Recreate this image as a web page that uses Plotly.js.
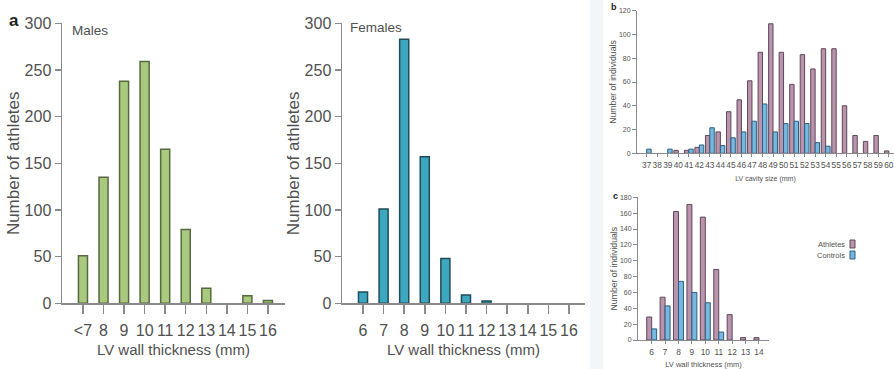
<!DOCTYPE html>
<html>
<head>
<meta charset="utf-8">
<script src="https://cdn.plot.ly/plotly-3.0.1.min.js"></script>
<style>html,body{margin:0;padding:0;background:#fff;}#chart{width:894px;height:369px;}</style>
</head>
<body>
<div id="chart"></div>
<script>
// ---- data ----
const maleCats = ['<7','8','9','10','11','12','13','14','15','16'];
const maleVals = [51,135,238,259,165,79,16,0,8,3];

const femaleCats = ['6','7','8','9','10','11','12','13','14','15','16'];
const femaleVals = [12,101,283,157,48,9,2.5,0,0,0,0];

const cavityCats = ['37','38','39','40','41','42','43','44','45','46','47','48','49','50','51','52','53','54','55','56','57','58','59','60'];
const cavityAthletes = [0,0,0,2.5,2.5,5,15,18,35,45,61,85,109,85,58,83,71,88,88,40,15,10,15,2];
const cavityControls = [3.5,0,3.5,0,3.5,7,21.5,6.5,13,18,27,41.5,18,25,27,25,9,6,0,0,0,0,0,0];

const wallCats = ['6','7','8','9','10','11','12','13','14'];
const wallAthletes = [29,54,162,171,155,89,32,3,3];
const wallControls = [14,43,74,60,47,10,0,0,0];

// ---- styling ----
const W = 894, H = 369;
const px = v => v / W;
const py = v => 1 - v / H;
const FONT = 'Liberation Sans, Arial, sans-serif';
const TXT = '#505050';
const AX = '#8a8a8a';

const green = '#a9c97f', greenLine = '#56693f';
const teal = '#3ea7c0', tealLine = '#1f4c58';
const purple = '#b994ac', purpleLine = '#5f4759';
const blue = '#78b7df', blueLine = '#2f5e7e';

// no outline on empty (zero-height) bars
const lw = (vals, w) => vals.map(v => v > 0 ? w : 0);

const traces = [
  {type:'bar', x: maleCats, y: maleVals, xaxis:'x', yaxis:'y', width:0.44,
   marker:{color: green, line:{color: greenLine, width: lw(maleVals, 1.5)}}, showlegend:false},
  {type:'bar', x: femaleCats, y: femaleVals, xaxis:'x2', yaxis:'y2', width:0.44,
   marker:{color: teal, line:{color: tealLine, width: lw(femaleVals, 1.5)}}, showlegend:false},
  {type:'bar', name:'Athletes', x: cavityCats, y: cavityAthletes, xaxis:'x3', yaxis:'y3', width:0.42, offset:-0.42,
   marker:{color: purple, line:{color: purpleLine, width: lw(cavityAthletes, 1)}}, showlegend:false},
  {type:'bar', name:'Controls', x: cavityCats, y: cavityControls, xaxis:'x3', yaxis:'y3', width:0.42, offset:0,
   marker:{color: blue, line:{color: blueLine, width: lw(cavityControls, 1)}}, showlegend:false},
  {type:'bar', name:'Athletes', x: wallCats, y: wallAthletes, xaxis:'x4', yaxis:'y4', width:0.37, offset:-0.37,
   marker:{color: purple, line:{color: purpleLine, width: lw(wallAthletes, 1)}}, showlegend:false},
  {type:'bar', name:'Controls', x: wallCats, y: wallControls, xaxis:'x4', yaxis:'y4', width:0.37, offset:0,
   marker:{color: blue, line:{color: blueLine, width: lw(wallControls, 1)}}, showlegend:false}
];

function bigX(domain, range, anchor, title) {
  return {domain, range, anchor, type:'category', dtick:1, tickangle:0, showline:true, linecolor:AX, linewidth:1.5,
    ticks:'outside', ticklen:9, tickcolor:AX, tickwidth:1.5, showgrid:false, zeroline:false,
    tickfont:{family:FONT, size:16, color:TXT}, ticklabelstandoff:3,
    title:{text:title, font:{family:FONT, size:15, color:TXT}, standoff:6}, fixedrange:true};
}
function bigY(domain, anchor, title) {
  return {domain, range:[0,300], anchor, dtick:50, showline:true, linecolor:AX, linewidth:1.5,
    ticks:'outside', ticklen:6, tickcolor:AX, tickwidth:1.5, showgrid:false, zeroline:false,
    tickfont:{family:FONT, size:16, color:TXT},
    title:{text:title, font:{family:FONT, size:17, color:TXT}, standoff:0}, fixedrange:true};
}
function smallX(domain, range, anchor, title, fs, tfs) {
  return {domain, range, anchor, type:'category', dtick:1, tickangle:0, showline:true, linecolor:AX, linewidth:1,
    ticks:'outside', ticklen:3, tickcolor:AX, tickwidth:1, showgrid:false, zeroline:false,
    tickfont:{family:FONT, size:fs, color:TXT}, ticklabelstandoff:1,
    title:{text:title, font:{family:FONT, size:tfs, color:TXT}, standoff:6}, fixedrange:true};
}
function smallY(domain, range, dtick, anchor, title) {
  return {domain, range, anchor, dtick, showline:true, linecolor:AX, linewidth:1,
    ticks:'outside', ticklen:4, tickcolor:AX, tickwidth:1, showgrid:false, zeroline:false,
    tickfont:{family:FONT, size:7, color:TXT},
    title:{text:title, font:{family:FONT, size:8.7, color:TXT}, standoff:0}, fixedrange:true};
}

function note(text, x, y, size, xanchor, color) {
  return {text, xref:'paper', yref:'paper', x:px(x), y:py(y), xanchor, yanchor:'middle',
    showarrow:false, borderpad:0, font:{family:FONT, size, color}};
}

const yA = [py(303.3), py(23.3)];
const layout = {
  width: W, height: H,
  margin:{l:0, r:0, t:0, b:0},
  paper_bgcolor:'#ffffff', plot_bgcolor:'rgba(0,0,0,0)',
  showlegend:false,
  barmode:'group',
  xaxis:  bigX([px(62), px(285)], [-1.02, 9.83], 'y', 'LV wall thickness (mm)'),
  yaxis:  bigY(yA, 'x', 'Number of athletes'),
  xaxis2: bigX([px(342), px(585)], [-1.02, 10.78], 'y2', 'LV wall thickness (mm)'),
  yaxis2: bigY(yA, 'x2', 'Number of athletes'),
  xaxis3: smallX([px(637), 1], [-0.92, 23.49], 'y3', 'LV cavity size (mm)', 8.3, 7),
  yaxis3: smallY([py(153.3), py(10.7)], [0,120], 20, 'x3', 'Number of individuals'),
  xaxis4: smallX([px(638), px(769)], [-1.02, 8.75], 'y4', 'LV wall thickness (mm)', 8.3, 7.5),
  yaxis4: smallY([py(340), py(197.3)], [0,180], 20, 'x4', 'Number of individuals'),
  shapes: [
    {type:'rect', xref:'paper', yref:'paper', x0:px(590), x1:px(603), y0:0, y1:1,
     fillcolor:'#f2f5fa', line:{width:0}, layer:'below'},
    {type:'rect', xref:'paper', yref:'paper', x0:px(850), x1:px(855), y0:py(248), y1:py(240),
     fillcolor:purple, line:{color:purpleLine, width:1}},
    {type:'rect', xref:'paper', yref:'paper', x0:px(850), x1:px(855), y0:py(259), y1:py(251),
     fillcolor:blue, line:{color:blueLine, width:1}}
  ],
  annotations: [
    note('<b>a</b>', 14, 21, 17, 'center', '#222'),
    note('Males', 71, 30, 13.5, 'left', TXT),
    note('Females', 349, 28, 13.5, 'left', TXT),
    note('<b>b</b>', 614, 7, 9, 'center', '#222'),
    note('<b>c</b>', 615, 196, 9, 'center', '#222'),
    note('Athletes', 846, 244, 7.5, 'right', TXT),
    note('Controls', 846, 255, 7.5, 'right', TXT)
  ]
};

Plotly.newPlot('chart', traces, layout, {staticPlot:true, displayModeBar:false});
</script>
</body>
</html>
